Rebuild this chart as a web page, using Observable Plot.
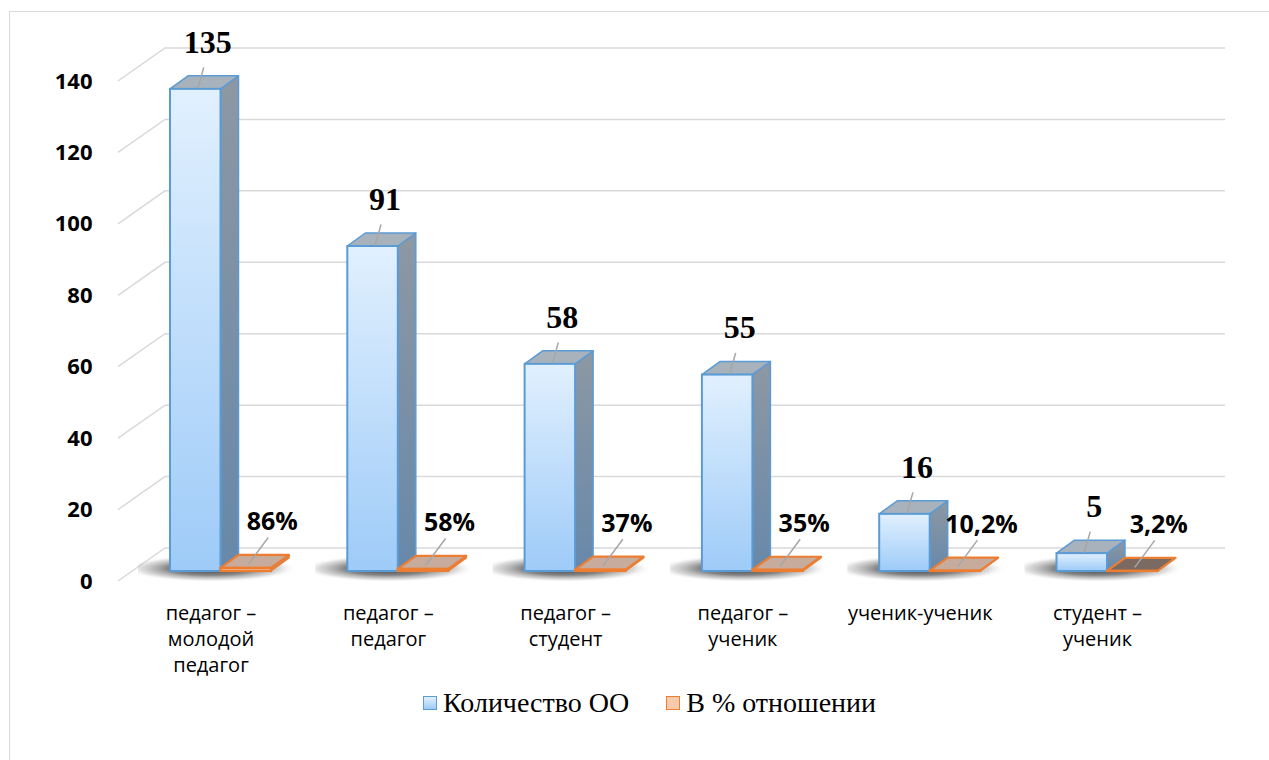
<!DOCTYPE html>
<html><head><meta charset="utf-8">
<script src="https://cdn.jsdelivr.net/npm/d3@7"></script>
<script src="https://cdn.jsdelivr.net/npm/@observablehq/plot@0.6"></script>
<style>
body{margin:0;background:#fff;width:1269px;height:760px;overflow:hidden;position:relative;font-family:"Open Sans",sans-serif}
#frame{position:absolute;left:9px;top:11px;width:1300px;height:800px;border:1.5px solid #d9d9d9;box-sizing:border-box}
#chart{position:absolute;left:0;top:0}
#legend{position:absolute;left:423px;top:683px;height:40px;display:flex;align-items:center;font-family:"Liberation Serif",serif;font-size:28px;color:#000;white-space:nowrap}
.sw{width:12px;height:12px;border:1.5px solid;margin-right:6px;display:inline-block}
.item{display:flex;align-items:center}
</style></head>
<body><div id="frame"></div><div id="chart"></div><div id="legend"></div>
<script>
// ---- data ----
const categories = ["педагог –\nмолодой\nпедагог", "педагог –\nпедагог", "педагог –\nстудент", "педагог –\nученик", "ученик-ученик", "студент –\nученик"];
const counts = [135, 91, 58, 55, 16, 5];
const shares = [0.86, 0.58, 0.37, 0.35, 0.102, 0.032];
const yTicks = [0, 20, 40, 60, 80, 100, 120, 140];
const seriesNames = ["Количество ОО", "В % отношении"];

// ---- layout ----
const X_DOMAIN = [0, categories.length - 1], X_RANGE = [220.5, 1107];
const Y_DOMAIN = [0, 140], Y_RANGE = [571, 71];
const ux = (X_RANGE[1] - X_RANGE[0]) / (X_DOMAIN[1] - X_DOMAIN[0]);
const uy = (Y_RANGE[0] - Y_RANGE[1]) / (Y_DOMAIN[1] - Y_DOMAIN[0]);
const px = p => p / ux, py = p => p / uy;
const BW = px(50.5), DX = px(18), DY = py(13);

const blue = counts.map((v, i) => ({i, v, x1: i - BW, x2: i}));
const orange = shares.map((v, i) => ({i, v, x1: i, x2: i + BW, dark: v < 0.05}));
const sideRows = bars => bars.flatMap(d => [
  {k: d.i, x: d.x2, y1: 0, y2: d.v, dark: d.dark},
  {k: d.i, x: d.x2 + DX, y1: DY, y2: d.v + DY, dark: d.dark}]);
const topRows = bars => bars.flatMap(d => [
  {k: d.i, y: d.v, x1: d.x1, x2: d.x2, dark: d.dark},
  {k: d.i, y: d.v + DY, x1: d.x1 + DX, x2: d.x2 + DX, dark: d.dark}]);
const fmtPct = v => (Math.round(v * 1000) / 10).toString().replace(".", ",") + "%";

const grid = (index, {y}, values, {width, marginLeft, marginRight}) => {
  const g = d3.create("svg:g").attr("fill", "none").attr("stroke", "#d9d9d9").attr("stroke-width", 1.5);
  const xa = marginLeft, xb = marginLeft + 47, xc = width - marginRight + 47;
  for (const t of yTicks) {
    const yy = y(t);
    g.append("path").attr("d", `M${xa},${yy + 10}L${xb},${yy - 23}H${xc}`);
  }
  return g.node();
};

const chart = Plot.plot({
  width: 1269, height: 680,
  marginLeft: 118, marginRight: 91, marginTop: 20, marginBottom: 20,
  x: {domain: X_DOMAIN, range: X_RANGE, axis: null},
  y: {domain: Y_DOMAIN, range: Y_RANGE, label: null},
  style: {fontFamily: "Open Sans", color: "#000", background: "transparent", overflow: "visible"},
  marks: [
    grid,
    Plot.axisY(yTicks, {anchor: "left", tickSize: 0, tickPadding: 26, dy: 10, fontSize: 22, fontWeight: "bold", fill: "#000", label: null}),
    // floor shadows
    Plot.rect(blue, {x1: d => d.x1 - px(32), x2: d => d.i + BW + px(40), y1: -py(11), y2: py(16), fill: "url(#floorShadow)"}),
    // blue bars
    Plot.areaY(sideRows(blue), {x: "x", y1: "y1", y2: "y2", z: "k", fill: "url(#blueSide)", stroke: "#5b9bd5", strokeWidth: 1.5, strokeLinejoin: "round"}),
    Plot.areaX(topRows(blue), {y: "y", x1: "x1", x2: "x2", z: "k", fill: "#a7b2bc", stroke: "#5b9bd5", strokeWidth: 1.5, strokeLinejoin: "round"}),
    Plot.rect(blue, {x1: "x1", x2: "x2", y1: 0, y2: "v", fill: "url(#blueFront)", stroke: "#5b9bd5", strokeWidth: 2}),
    // orange plates
    Plot.areaY(sideRows(orange), {x: "x", y1: "y1", y2: "y2", z: "k", fill: "#c9865c", stroke: "#ed7d31", strokeWidth: 1.5}),
    Plot.areaX(topRows(orange), {filter: d => !d.dark, y: "y", x1: "x1", x2: "x2", z: "k", fill: "#c7ac9e", stroke: "#ed7d31", strokeWidth: 2.2, strokeLinejoin: "round"}),
    Plot.areaX(topRows(orange), {filter: d => d.dark, y: "y", x1: "x1", x2: "x2", z: "k", fill: "#7b6a62", stroke: "#ed7d31", strokeWidth: 2.2, strokeLinejoin: "round"}),
    Plot.rect(orange, {x1: "x1", x2: "x2", y1: 0, y2: "v", fill: "#f4b183", stroke: "#ed7d31", strokeWidth: 2.2}),
    // leader lines
    Plot.link(blue, {x1: d => d.i - BW / 2 + px(2), y1: d => d.v + py(1), x2: d => d.i - BW / 2 + px(8), y2: d => d.v + py(22), stroke: "#a6a6a6", strokeWidth: 1.5}),
    Plot.link(orange, {x1: d => d.i + BW / 2 + px(2), y1: d => d.v + py(4), x2: d => d.i + BW / 2 + px(22), y2: d => d.v + py(31), stroke: "#a6a6a6", strokeWidth: 1.5}),
    // value labels
    Plot.text(blue, {x: d => d.i - BW / 2, y: "v", text: d => String(d.v), dx: 12, dy: -47, fontSize: 32, fontWeight: "bold", fontFamily: "Liberation Serif", fill: "#000"}),
    Plot.text(orange, {x: d => d.i + BW / 2, y: "v", text: d => fmtPct(d.v), dx: 26, dy: -46, fontSize: 25, fontWeight: "bold", fill: "#000"}),
    // category labels
    Plot.text(blue, {x: d => d.i, y: 0, text: d => categories[d.i], dx: -10, dy: 30, lineAnchor: "top", lineHeight: 1.3, fontSize: 20, fill: "#000"})
  ]
});

const defs = d3.select(chart).insert("defs", ":first-child");
const lg = (id, stops) => {
  const g = defs.append("linearGradient").attr("id", id).attr("x1", 0).attr("y1", 0).attr("x2", 0).attr("y2", 1);
  stops.forEach(([o, c]) => g.append("stop").attr("offset", o).attr("stop-color", c));
};
lg("blueFront", [[0, "#e1f0fe"], [1, "#9ecbf8"]]);
lg("blueSide", [[0, "#8d98a3"], [1, "#6788aa"]]);
const rg = defs.append("radialGradient").attr("id", "floorShadow").attr("cx", 0.42).attr("cy", 0.5).attr("r", 0.5);
[[0, "#222", 0.9], [0.5, "#444", 0.65], [0.8, "#888", 0.3], [1, "#fff", 0]].forEach(([o, c, a]) =>
  rg.append("stop").attr("offset", o).attr("stop-color", c).attr("stop-opacity", a));

document.getElementById("chart").appendChild(chart);

const legend = d3.select("#legend");
const swatches = [
  {bg: "linear-gradient(#e1f0fe,#9ecbf8)", bc: "#5b9bd5"},
  {bg: "#f8cbad", bc: "#ed7d31"}
];
seriesNames.forEach((name, k) => {
  const it = legend.append("div").attr("class", "item").style("margin-right", k === 0 ? "37px" : "0");
  it.append("span").attr("class", "sw").style("background", swatches[k].bg).style("border-color", swatches[k].bc);
  it.append("span").text(name);
});
</script></body></html>
